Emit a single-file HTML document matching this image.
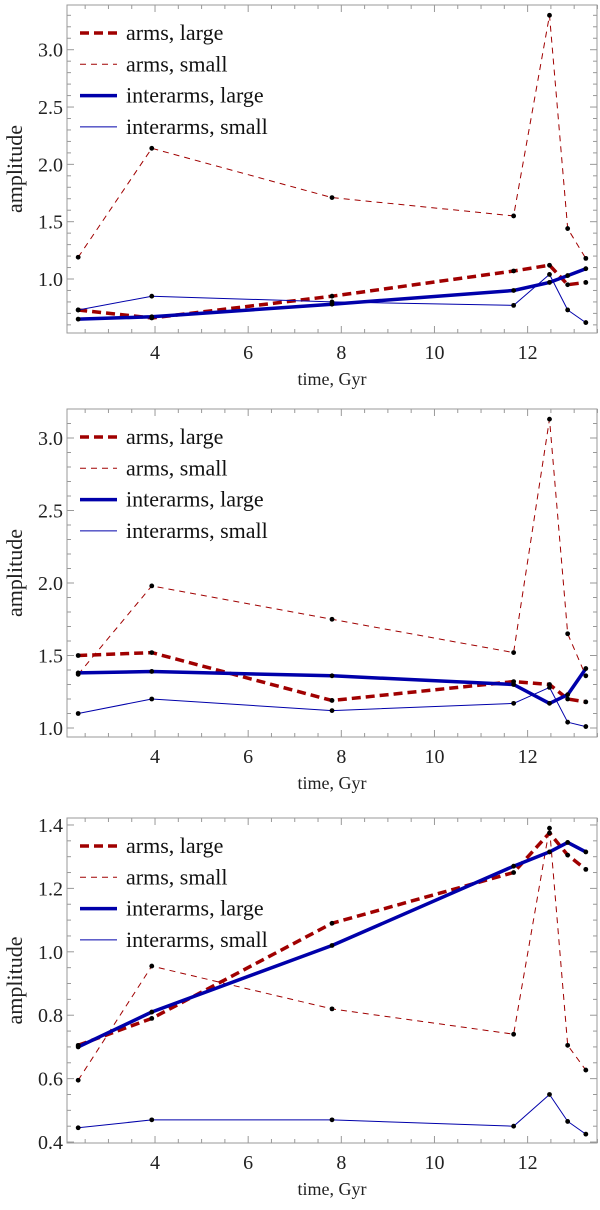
<!DOCTYPE html>
<html><head><meta charset="utf-8"><style>
html,body{margin:0;padding:0;background:#fff;}
svg{display:block;font-family:"Liberation Serif",serif;}
</style></head><body>
<svg id="chart" width="600" height="1210" viewBox="0 0 600 1210" xmlns="http://www.w3.org/2000/svg"></svg>
<script>
const times = [2.35, 3.93, 7.8, 11.7, 12.47, 12.86, 13.25];
const seriesNames = ["arms, large", "arms, small", "interarms, large", "interarms, small"];
const p1ArmsLarge = [0.73, 0.66, 0.85, 1.07, 1.12, 0.95, 0.97];
const p1ArmsSmall = [1.19, 2.14, 1.71, 1.55, 3.30, 1.44, 1.18];
const p1InterLarge = [0.65, 0.67, 0.78, 0.90, 0.97, 1.03, 1.09];
const p1InterSmall = [0.73, 0.85, 0.80, 0.77, 1.04, 0.73, 0.62];
const p2ArmsLarge = [1.50, 1.52, 1.19, 1.32, 1.30, 1.20, 1.18];
const p2ArmsSmall = [1.37, 1.98, 1.75, 1.52, 3.13, 1.65, 1.36];
const p2InterLarge = [1.38, 1.39, 1.36, 1.30, 1.17, 1.23, 1.41];
const p2InterSmall = [1.10, 1.20, 1.12, 1.17, 1.28, 1.04, 1.01];
const p3ArmsLarge = [0.705, 0.79, 1.09, 1.25, 1.375, 1.305, 1.26];
const p3ArmsSmall = [0.595, 0.955, 0.82, 0.74, 1.39, 0.705, 0.627];
const p3InterLarge = [0.70, 0.81, 1.02, 1.27, 1.315, 1.345, 1.315];
const p3InterSmall = [0.445, 0.47, 0.47, 0.45, 0.55, 0.465, 0.425];
const xTickLabels = ["4", "6", "8", "10", "12"];
const p1YTickLabels = ["1.0", "1.5", "2.0", "2.5", "3.0"];
const p2YTickLabels = ["1.0", "1.5", "2.0", "2.5", "3.0"];
const p3YTickLabels = ["0.4", "0.6", "0.8", "1.0", "1.2", "1.4"];

const NS = "http://www.w3.org/2000/svg";
const svg = document.getElementById("chart");
function mk(tag, attrs, parent) {
  const e = document.createElementNS(NS, tag);
  for (const k in attrs) e.setAttribute(k, attrs[k]);
  (parent || svg).appendChild(e);
  return e;
}
const L = 67, R = 597;
const xMin = 2.11, xMax = 13.49;
function xs(t) { return L + (t - xMin) / (xMax - xMin) * (R - L); }

const styles = [
  {color: "#a00000", w: 3.5, dash: "9,5"},
  {color: "#a00000", w: 1, dash: "6,5"},
  {color: "#0000aa", w: 3.5, dash: ""},
  {color: "#0000aa", w: 1, dash: ""}
];

const panels = [
  {top: 5, bottom: 333, yMin: 0.529, yMax: 3.39, labels: p1YTickLabels, minor: 0.1, series: [p1ArmsLarge, p1ArmsSmall, p1InterLarge, p1InterSmall]},
  {top: 409, bottom: 737, yMin: 0.938, yMax: 3.2, labels: p2YTickLabels, minor: 0.1, series: [p2ArmsLarge, p2ArmsSmall, p2InterLarge, p2InterSmall]},
  {top: 818, bottom: 1143, yMin: 0.397, yMax: 1.422, labels: p3YTickLabels, minor: 0.05, series: [p3ArmsLarge, p3ArmsSmall, p3InterLarge, p3InterSmall]}
];

panels.forEach((p, pi) => {
  const g = mk("g", {});
  
  
  const ys = v => p.bottom - (v - p.yMin) / (p.yMax - p.yMin) * (p.bottom - p.top);
  const frame = mk("rect", {x: L, y: p.top, width: R - L, height: p.bottom - p.top, fill: "none", stroke: "#999", "stroke-width": 1}, g);
  
  
  for (let t = 2.5; t <= 13.5; t += 0.5) {
    const x = xs(t);
    const major = Math.abs(t % 2) < 1e-6;
    const len = major ? 7 : 4;
    mk("line", {x1: x, x2: x, y1: p.bottom, y2: p.bottom - len, stroke: "#999", "stroke-width": 1}, g);
    mk("line", {x1: x, x2: x, y1: p.top, y2: p.top + len, stroke: "#999", "stroke-width": 1}, g);
  }
  xTickLabels.forEach(s => {
    const tx = mk("text", {x: xs(parseFloat(s)), y: p.bottom + 26, "text-anchor": "middle", "font-size": 20, fill: "#222"}, g);
    tx.textContent = s;
    
    
  });
  const step = p.minor;
  for (let v = Math.ceil(p.yMin / step) * step; v <= p.yMax; v += step) {
    const y = ys(v);
    const isMaj = p.labels.some(s => Math.abs(parseFloat(s) - v) < 1e-6);
    const len = isMaj ? 7 : 4;
    mk("line", {x1: L, x2: L + len, y1: y, y2: y, stroke: "#999", "stroke-width": 1}, g);
    mk("line", {x1: R, x2: R - len, y1: y, y2: y, stroke: "#999", "stroke-width": 1}, g);
  }
  p.labels.forEach(s => {
    const ty = mk("text", {x: L - 4, y: ys(parseFloat(s)) + 7, "text-anchor": "end", "font-size": 20, fill: "#222"}, g);
    ty.textContent = s;
    
    
  });
  const yt = mk("text", {x: 0, y: 0, "text-anchor": "middle", "font-size": 22, fill: "#222", transform: `translate(22,${(p.top + p.bottom) / 2}) rotate(-90)`}, g);
  yt.textContent = "amplitude";
  
  
  const xt = mk("text", {x: (L + R) / 2, y: p.bottom + 52, "text-anchor": "middle", "font-size": 18, fill: "#222"}, g);
  xt.textContent = "time, Gyr";
  
  
  p.series.forEach((vals, si) => {
    const st = styles[si];
    const pts = vals.map((v, i) => xs(times[i]).toFixed(1) + "," + ys(v).toFixed(1)).join(" ");
    const line = mk("polyline", {points: pts, fill: "none", stroke: st.color, "stroke-width": st.w, "stroke-dasharray": st.dash, "stroke-linejoin": "round"}, g);
    
    
  });
  p.series.forEach((vals) => {
    vals.forEach((v, i) => {
      const c = mk("circle", {cx: xs(times[i]), cy: ys(v), r: 2.4, fill: "#000"}, g);
      
      
    });
  });
  seriesNames.forEach((n, si) => {
    const st = styles[si];
    const y = p.top + 28 + si * 31.3;
    const ll = mk("line", {x1: 80, x2: 117, y1: y, y2: y, stroke: st.color, "stroke-width": st.w, "stroke-dasharray": st.dash}, g);
    
    
    const lt = mk("text", {x: 126, y: y + 7, "font-size": 22, fill: "#111"}, g);
    lt.textContent = n;
    
    
  });
});
</script>
</body></html>
